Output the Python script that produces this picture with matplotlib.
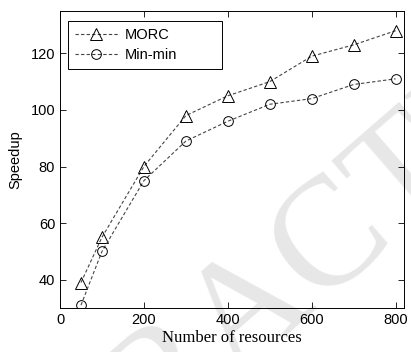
import matplotlib
matplotlib.use('Agg')
import matplotlib.pyplot as plt

# number of resources and measured speedup for each scheduler
resources = [50, 100, 200, 300, 400, 500, 600, 700, 800]
speedup_morc = [39, 55, 80, 98, 105, 110, 119, 123, 128]
speedup_minmin = [31, 50, 75, 89, 96, 102, 104, 109, 111]

xticks = [0, 200, 400, 600, 800]
yticks = [40, 60, 80, 100, 120]

fig = plt.figure(figsize=(4.11, 3.52), dpi=100)
ax = fig.add_axes([0.146, 0.125, 0.837, 0.844])

# watermark across the figure, kept behind the axes
fig.text(0.618, 0.122, 'RETRACTED', fontsize=112, family='Liberation Serif',
         color='#e7e7e7', rotation=41, ha='center', va='center', zorder=-1)

ax.patch.set_alpha(0)
ax.plot(resources, speedup_morc, linestyle='--', color='#444444', lw=0.8,
        marker='^', markersize=8, markerfacecolor='none',
        markeredgecolor='black', markeredgewidth=0.7, dashes=(3, 2),
        label='MORC')
ax.plot(resources, speedup_minmin, linestyle='--', color='#444444', lw=0.8,
        marker='o', markersize=7, markerfacecolor='none',
        markeredgecolor='black', markeredgewidth=0.7, dashes=(3, 2),
        label='Min-min')

ax.set_xlim(0, 820)
ax.set_ylim(30, 135)
ax.set_xticks(xticks)
ax.set_yticks(yticks)
ax.tick_params(direction='in', top=True, right=True, length=4, width=0.6,
               labelsize=10.5)
for lab in ax.get_xticklabels() + ax.get_yticklabels():
    lab.set_family('Liberation Sans')
for sp in ax.spines.values():
    sp.set_linewidth(0.7)

ax.set_xlabel('Number of resources', family='Liberation Serif', fontsize=12,
              labelpad=2)
ax.set_ylabel('Speedup', family='Liberation Sans', fontsize=10.5, labelpad=6)

# wide legend box in the upper left corner
leg = ax.legend(loc='upper left', bbox_to_anchor=(0.023, 0.0, 0.448, 0.966),
                mode='expand', borderaxespad=0, borderpad=0.5,
                prop={'family': 'Liberation Sans', 'size': 10.5},
                fancybox=False, edgecolor='black', framealpha=1,
                handlelength=2.9, handletextpad=0.5, labelspacing=0.4)
leg.get_frame().set_linewidth(0.7)

fig.savefig('out.png', dpi=100)
